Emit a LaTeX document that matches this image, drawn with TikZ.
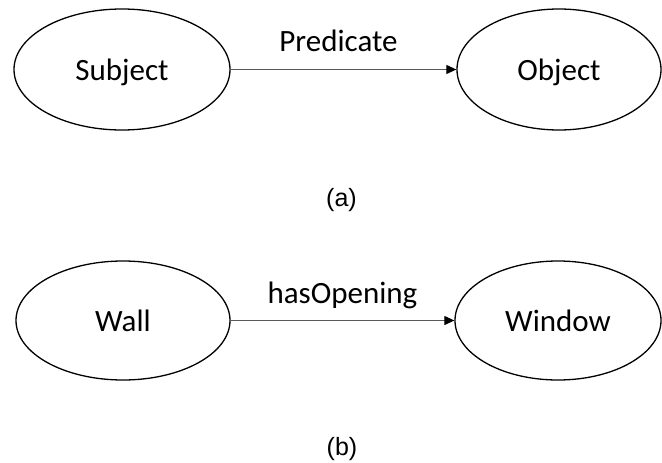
\documentclass[tikz,border=0pt]{standalone}
\usepackage{fontspec}
\setmainfont{Carlito}
\newfontfamily\capfont{Liberation Sans}
\usetikzlibrary{shapes.geometric,arrows.meta}
\tikzset{
  entity/.style={draw=black, line width=1.3pt, ellipse, inner sep=0pt,
    font=\fontsize{31}{31}\selectfont, text height=21.5pt, text depth=0pt},
  relation/.style={draw=black!65, line width=1.1pt,
    -{Triangle[length=10pt,width=9pt,color=black]}},
  rellabel/.style={font=\fontsize{31}{31}\selectfont, inner sep=0pt,
    text depth=0pt, anchor=south},
  caption/.style={font=\capfont\fontsize{25}{25}\selectfont, inner sep=0pt}
}
\begin{document}
\begin{tikzpicture}[x=1pt,y=-1pt]
  \useasboundingbox (0,0) rectangle (662,463);
  % (a) generic triple
  \node[entity, minimum width=216pt, minimum height=121pt] (subj) at (122,69.5) {Subject};
  \node[entity, minimum width=204pt, minimum height=121pt] (obj) at (559,69.5) {Object};
  \draw[relation] (subj.east) -- node[rellabel, above=17pt, xshift=-5pt] {Predicate} (obj.west);
  \node[caption] (capa) at (341.5,200) {(a)};
  % (b) concrete example
  \node[entity, minimum width=214pt, minimum height=119pt] (wall) at (123,320.5) {Wall};
  \node[entity, minimum width=206pt, minimum height=119pt] (win) at (558,320.5) {Window};
  \draw[relation] (wall.east) -- node[rellabel, above=16pt] {hasOpening} (win.west);
  \node[caption] (capb) at (342,449.5) {(b)};
\end{tikzpicture}
\end{document}
